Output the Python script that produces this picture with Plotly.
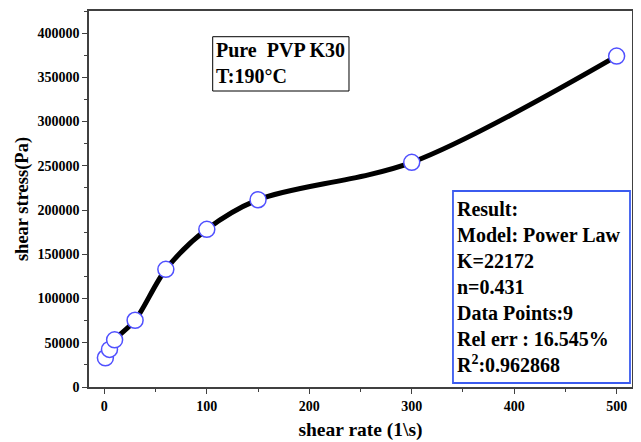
import plotly.graph_objects as go

# Data
shear_rate = [1, 5, 10, 30, 60, 100, 150, 300, 500]
shear_stress = [33000, 42500, 53300, 75400, 133000, 178200, 211700, 253900, 374000]

x_ticks = [0, 100, 200, 300, 400, 500]
y_ticks = [0, 50000, 100000, 150000, 200000, 250000, 300000, 350000, 400000]

info_lines = ["Pure\u00a0\u00a0PVP K30", "T:190°C"]
result_lines = [
    "Result:",
    "Model: Power Law",
    "K=22172",
    "n=0.431",
    "Data Points:9",
    "Rel err : 16.545%",
    "R<sup>2</sup>:0.962868",
]

FONT = "Times New Roman, Liberation Serif, serif"
AX = "#404040"

# page body has an 8px default margin; size the figure to fit the window
W, H, OFF = 641, 442, 8
PL, PR, PT, PB = 89, 632, 11, 387  # plot area in window pixels

fig = go.Figure()
fig.add_trace(go.Scatter(
    x=shear_rate, y=shear_stress,
    mode="lines+markers",
    line=dict(color="black", width=5, shape="spline", smoothing=0.9),
    marker=dict(symbol="circle", size=16, color="white",
                line=dict(color="#5050ff", width=1.5)),
    showlegend=False,
))

axis_common = dict(
    showline=True, linecolor=AX, linewidth=1.5, mirror=True,
    ticks="outside", ticklen=5, tickwidth=1, tickcolor=AX,
    showgrid=False, zeroline=False, automargin=False,
    tickfont=dict(family=FONT, size=14, color="black"),
)

fig.update_xaxes(
    range=[-15, 515], tickvals=x_ticks,
    ticktext=["<b>%d</b>" % v for v in x_ticks],
    minor=dict(ticks="outside", ticklen=3, dtick=50, tick0=0, tickcolor=AX, showgrid=False),
    title=dict(text="<b>shear rate (1\\s)</b>", font=dict(family=FONT, size=19.5, color="black"), standoff=10),
    **axis_common,
)
fig.update_yaxes(
    range=[0, 425000], tickvals=y_ticks,
    ticktext=["<b>%d</b>" % v for v in y_ticks],
    minor=dict(ticks="outside", ticklen=3, dtick=25000, tick0=0, tickcolor=AX, showgrid=False),
    title=dict(text="<b>shear stress(Pa)</b>", font=dict(family=FONT, size=18.5, color="black"), standoff=4),
    **axis_common,
)

# boxes
fig.add_shape(type="rect", xref="paper", yref="paper",
              x0=0.2278, x1=0.4788, y0=0.7872, y1=0.9316,
              line=dict(color="black", width=1), fillcolor="rgba(0,0,0,0)")
fig.add_shape(type="rect", xref="paper", yref="paper",
              x0=0.6703, x1=0.9963, y0=0.0106, y1=0.5213,
              line=dict(color="#3b5bef", width=1.8), fillcolor="white", layer="above")

fig.add_annotation(xref="paper", yref="paper", x=0.2300, y=0.932,
                   xanchor="left", yanchor="top", align="left", showarrow=False,
                   text="<br>".join("<b>%s</b>" % s for s in info_lines),
                   font=dict(family=FONT, size=20, color="black"))
fig.add_annotation(xref="paper", yref="paper", x=0.6740, y=0.509,
                   xanchor="left", yanchor="top", align="left", showarrow=False,
                   text="<br>".join("<b>%s</b>" % s for s in result_lines),
                   font=dict(family=FONT, size=20, color="black"))

fig.update_layout(
    width=W - OFF, height=H - OFF,
    margin=dict(l=PL - OFF, r=W - PR, t=PT - OFF, b=H - PB),
    paper_bgcolor="white", plot_bgcolor="white",
    font=dict(family=FONT, color="black"),
)

fig.write_html("out.html")
